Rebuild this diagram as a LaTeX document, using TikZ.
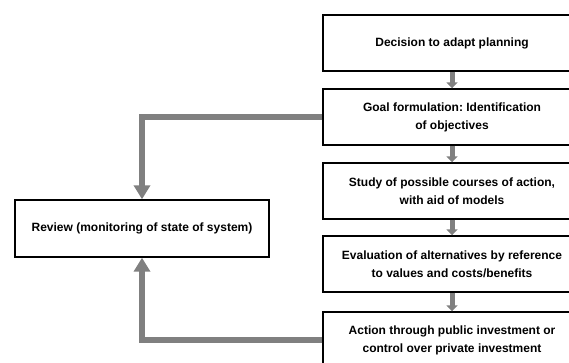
\documentclass[tikz,border=0pt]{standalone}
\usepackage{fontspec}
\setmainfont{Liberation Sans}
\usetikzlibrary{arrows.meta}
\usetikzlibrary{positioning}
\frenchspacing

\begin{document}
\begin{tikzpicture}[x=1pt,y=-1pt]
                \tikzstyle{every node}=[font=\bfseries\fontsize{12}{18}\selectfont, align=center]
                \tikzstyle{stage}=[draw, line width=1.4pt, minimum width=258pt, minimum height=56pt]
                \tikzstyle{step arrow}=[draw=gray, line width=5pt, -{Triangle[length=6pt,width=11pt]}]
                \tikzstyle{loop arrow}=[draw=gray, line width=5.5pt, -{Triangle[length=14pt,width=16pt]}]
                \useasboundingbox (0,0) rectangle (569,362);
                \clip (0,0) rectangle (569,362);

                \node[stage] (decision) at (452,43) {Decision to adapt planning};
                \node[stage] (goal) at (452,117) {Goal formulation: Identification\\of objectives};
                \node[stage] (study) at (452,191) {Study of possible courses of action,\\with aid of models};
                \node[stage] (eval) at (452,264) {Evaluation of alternatives by reference\\to values and costs/benefits};
                \node[stage] (action) at (452,340) {Action through public investment or\\control over private investment};
                \node[stage, minimum width=254pt, minimum height=57pt] (review) at (142,228.5) {Review (monitoring of state of system)};

                \draw[step arrow] (decision) -- (goal);
                \draw[step arrow] (goal) -- (study);
                \draw[step arrow] (study) -- (eval);
                \draw[step arrow] (eval) -- (action);

                \draw[loop arrow] (goal.west) -| (review.north);
                \draw[loop arrow] (action.west) -| (review.south);
            \end{tikzpicture}
\end{document}
